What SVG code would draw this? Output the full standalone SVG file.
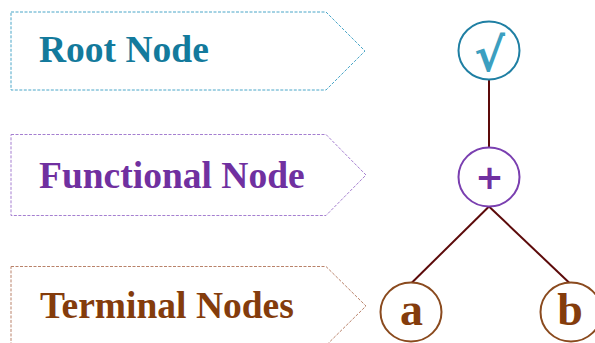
<svg xmlns="http://www.w3.org/2000/svg" width="595" height="343" viewBox="0 0 595 343">
  <style>
    .tag { fill: #ffffff; stroke-width: 1; stroke-dasharray: 3 1.5; }
    .label { font-family: "Liberation Serif", "Times New Roman", serif; font-weight: bold; font-size: 37.5px; }
    .node { fill: #ffffff; stroke-width: 2; }
    .sym { font-family: "Liberation Serif", "Times New Roman", serif; font-weight: bold; text-anchor: middle; }
    .op { font-family: "DejaVu Sans", sans-serif; font-weight: bold; text-anchor: middle; }
    .edge { stroke: #5c0a0a; stroke-width: 2; fill: none; }
  </style>

  <!-- legend tags -->
  <g id="tag-root">
    <polygon class="tag" points="11,12 326,12 365,51 326,90 11,90" stroke="#4aa6c8"/>
    <text class="label" x="39" y="62" fill="#137a9c">Root Node</text>
  </g>
  <g id="tag-functional">
    <polygon class="tag" points="11,134.5 326,134.5 366,175 326,215.5 11,215.5" stroke="#a57fd0"/>
    <text class="label" x="39" y="187.5" fill="#7030a0">Functional Node</text>
  </g>
  <g id="tag-terminal">
    <polygon class="tag" points="11,266.5 326,266.5 366,306 326,345.5 11,345.5" stroke="#b9826a"/>
    <text class="label" x="40" y="317.5" fill="#843c0c">Terminal Nodes</text>
  </g>

  <!-- tree edges -->
  <g id="edges">
    <line class="edge" x1="489" y1="79" x2="489" y2="148"/>
    <line class="edge" x1="489" y1="206.5" x2="411.5" y2="283"/>
    <line class="edge" x1="489" y1="206.5" x2="569.5" y2="283"/>
  </g>

  <!-- tree nodes -->
  <g id="node-sqrt">
    <ellipse class="node" cx="489" cy="50.5" rx="30.5" ry="29" stroke="#1f7fa3"/>
    <text class="op" x="489.5" y="70.5" font-size="46" fill="#3c9fc0">√</text>
  </g>
  <g id="node-plus">
    <ellipse class="node" cx="489" cy="177" rx="30.5" ry="29.5" stroke="#7a3fb0"/>
    <text class="op" x="489.5" y="189" font-size="34" fill="#7030a0">+</text>
  </g>
  <g id="node-a">
    <ellipse class="node" cx="411" cy="312" rx="30.5" ry="29.5" stroke="#8a4a1e"/>
    <text class="sym" x="411.5" y="324.5" font-size="46" fill="#843c0c">a</text>
  </g>
  <g id="node-b">
    <ellipse class="node" cx="571" cy="312" rx="30.5" ry="29.5" stroke="#8a4a1e"/>
    <text class="sym" x="570" y="324.5" font-size="46" fill="#843c0c">b</text>
  </g>
</svg>
